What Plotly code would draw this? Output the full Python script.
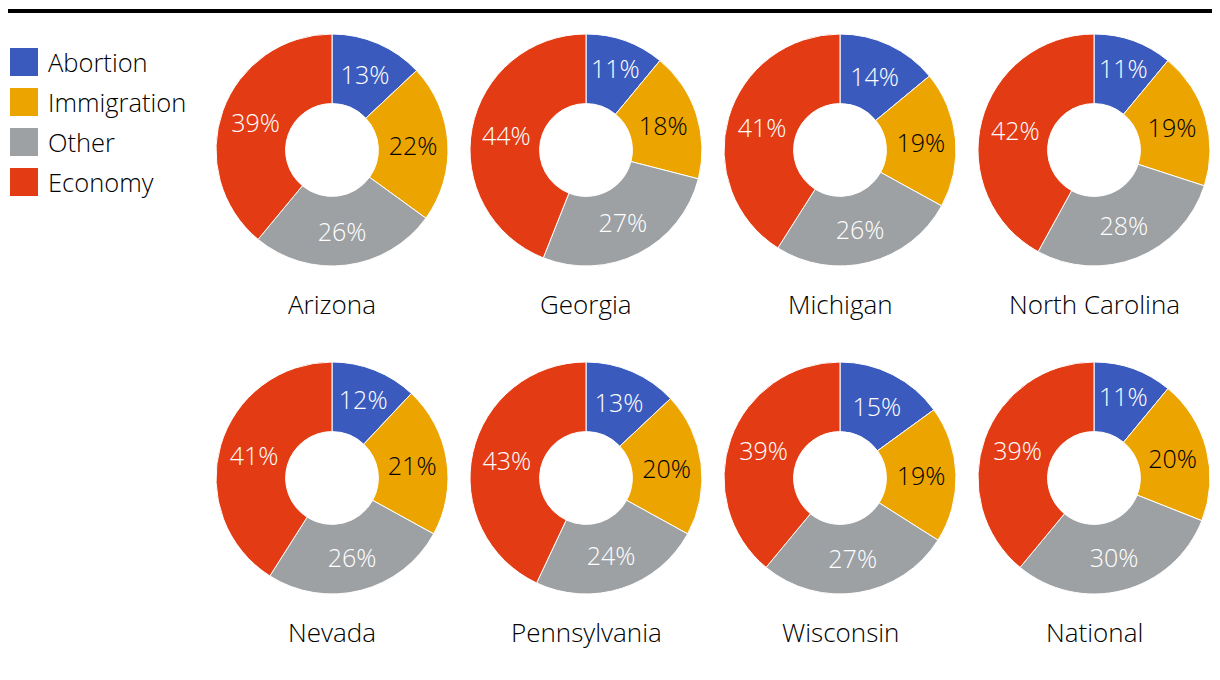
import plotly.graph_objects as go

categories = ["Abortion", "Immigration", "Other", "Economy"]
regions = ["Arizona", "Georgia", "Michigan", "North Carolina",
           "Nevada", "Pennsylvania", "Wisconsin", "National"]
abortion = [13, 11, 14, 11, 12, 13, 15, 11]
immigration = [22, 18, 19, 19, 21, 20, 19, 20]
other = [26, 27, 26, 28, 26, 24, 27, 30]
economy = [39, 44, 41, 42, 41, 43, 39, 39]

colors = ["#3a5bbd", "#eca400", "#9da1a4", "#e33b14"]
text_colors = ["white", "black", "white", "white"]

OFF = 8  # page body margin
W, H = 1220 - OFF, 680 - OFF
FONT = "Open Sans"


def px(x):
    return (x - OFF) / W


def py(y):
    return (H - (y - OFF)) / H


col_cx = [332, 586, 840, 1094]
row_cy = [150, 478]
R = 116

fig = go.Figure()
for i, name in enumerate(regions):
    r, c = divmod(i, 4)
    cx, cy = col_cx[c], row_cy[r]
    vals = [abortion[i], immigration[i], other[i], economy[i]]
    fig.add_trace(go.Pie(
        labels=categories,
        values=vals,
        text=[f"{v}%" for v in vals],
        textinfo="text",
        textposition="inside",
        insidetextorientation="horizontal",
        hole=0.4,
        sort=False,
        direction="clockwise",
        rotation=0,
        marker=dict(colors=colors, line=dict(color="white", width=1)),
        textfont=dict(color=text_colors, size=25, family=FONT, weight=300),
        domain=dict(x=[px(cx - R), px(cx + R)],
                    y=[py(cy + R), py(cy - R)]),
        showlegend=False,
        hoverinfo="label+percent",
    ))
    fig.add_annotation(x=px(cx), y=py(cy + 154), xref="paper", yref="paper",
                       text=name, showarrow=False, xanchor="center", yanchor="middle",
                       font=dict(size=26, color="black", family=FONT, weight=300))

# top rule
fig.add_shape(type="line", xref="paper", yref="paper", x0=0, x1=1,
              y0=py(11), y1=py(11), line=dict(color="black", width=4))

# legend
for k, (cat, col) in enumerate(zip(categories, colors)):
    yc = 62 + 40 * k
    fig.add_shape(type="rect", xref="paper", yref="paper",
                  x0=px(10), x1=px(38), y0=py(yc + 14), y1=py(yc - 14),
                  fillcolor=col, line=dict(width=0))
    fig.add_annotation(x=px(46), y=py(yc), xref="paper", yref="paper",
                       text=cat, showarrow=False, xanchor="left", yanchor="middle",
                       font=dict(size=25.5, color="black", family=FONT, weight=300))

fig.update_layout(
    width=W, height=H,
    margin=dict(l=0, r=0, t=0, b=0),
    paper_bgcolor="white", plot_bgcolor="white",
    uniformtext=dict(minsize=25, mode="show"),
)
fig.write_html("out.html")
